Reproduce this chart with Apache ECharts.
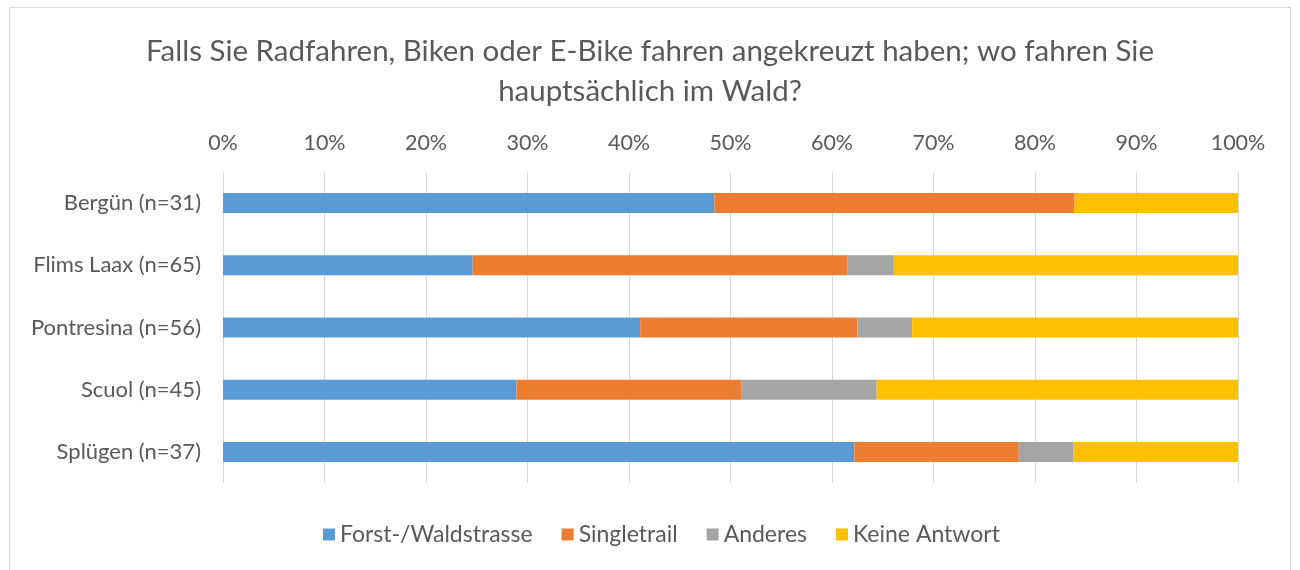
<!DOCTYPE html>
<html><head><meta charset="utf-8">
<script src="https://cdn.jsdelivr.net/npm/echarts@6/dist/echarts.min.js"></script>
<style>html,body{margin:0;padding:0;background:#fff}#c{width:1300px;height:570px}</style>
</head><body><div id="c"></div>
<script>
const categories = ["Bergün (n=31)", "Flims Laax (n=65)", "Pontresina (n=56)", "Scuol (n=45)", "Splügen (n=37)"];
const forst = [48.4, 24.6, 41.1, 28.9, 62.2];
const single = [35.5, 36.9, 21.4, 22.2, 16.2];
const anderes = [0, 4.6, 5.4, 13.3, 5.4];
const keine = [16.1, 33.9, 32.1, 35.6, 16.2];
const seriesNames = ["Forst-/Waldstrasse", "Singletrail", "Anderes", "Keine Antwort"];
const colors = ["#5b9bd5", "#ed7d31", "#a5a5a5", "#ffc000"];
const titleText = "Falls Sie Radfahren, Biken oder E-Bike fahren angekreuzt haben; wo fahren Sie\nhauptsächlich im Wald?";

const font = "Lato, 'Open Sans', sans-serif";
const chart = echarts.init(document.getElementById('c'), null, {renderer: 'canvas'});
const data = [forst, single, anderes, keine];
chart.setOption({
  animation: false,
  graphic: [{type: 'rect', shape: {x: 9.5, y: 7.5, width: 1281, height: 580}, style: {fill: 'none', stroke: '#d9d9d9', lineWidth: 1}}],
  title: {text: titleText, left: 'center', top: 26, textStyle: {fontFamily: font, fontSize: 29.5, fontWeight: 'normal', color: '#595959', lineHeight: 40}},
  legend: {bottom: 19, left: 318, itemWidth: 12, itemHeight: 12, itemGap: 29, icon: 'rect', textStyle: {fontFamily: font, fontSize: 23, color: '#595959'}, data: seriesNames},
  grid: {left: 223, right: 62, top: 172, bottom: 87, containLabel: false},
  xAxis: {type: 'value', position: 'top', min: 0, max: 100, interval: 10,
    axisLabel: {formatter: '{value}%', fontFamily: font, fontSize: 21.5, color: '#595959', margin: 18},
    axisLine: {show: false}, axisTick: {show: false},
    splitLine: {lineStyle: {color: '#d9d9d9', width: 1}}},
  yAxis: {type: 'category', inverse: true, data: categories,
    axisLabel: {fontFamily: font, fontSize: 22, color: '#595959', margin: 22},
    axisLine: {show: false}, axisTick: {show: false}},
  series: seriesNames.map((n, i) => ({name: n, type: 'bar', stack: 'all', barWidth: 20, data: data[i], itemStyle: {color: colors[i]}}))
});
</script></body></html>
